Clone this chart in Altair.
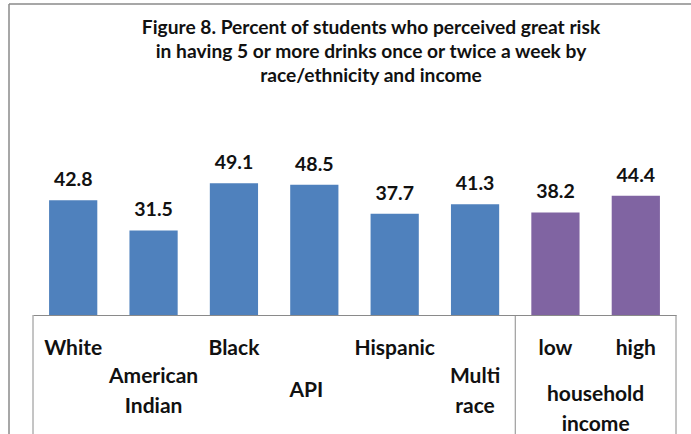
import altair as alt
import pandas as pd

categories = ["White", "American Indian", "Black", "API", "Hispanic", "Multi race", "low", "high"]
values = [42.8, 31.5, 49.1, 48.5, 37.7, 41.3, 38.2, 44.4]
groups = ["race", "race", "race", "race", "race", "race", "income", "income"]
label_text = ["White", "American\nIndian", "Black", "API", "Hispanic", "Multi\nrace", "low", "high"]
top_row = ["White", "Black", "Hispanic", "low", "high"]
two_line = ["American Indian", "Multi race"]
group_label = ["household\nincome"]
title_text = ["Figure 8. Percent of students who perceived great risk\n"
              "in having 5 or more drinks once or twice a week by\n"
              "race/ethnicity and income"]

FONT = "Lato"
W, H = 643, 161
STEP = W / len(categories)
GRAY = "#8a8a8a"
INK = "#111111"

df = pd.DataFrame({"cat": categories, "value": values, "group": groups, "label": label_text})
gdf = pd.DataFrame({"cat": ["low"], "label": group_label})
tdf = pd.DataFrame({"t": title_text})
one = pd.DataFrame({"k": [0]})

x = alt.X(
    "cat:N",
    sort=categories,
    scale=alt.Scale(domain=categories, paddingInner=0.4, paddingOuter=0.2),
    axis=alt.Axis(title=None, labels=False, ticks=False, grid=False,
                  domainColor=GRAY, domainWidth=1),
)
y = alt.Y("value:Q", scale=alt.Scale(domain=[0, 60]), axis=None)

bars = alt.Chart(df).mark_bar().encode(
    x=x,
    y=y,
    color=alt.Color("group:N",
                    scale=alt.Scale(domain=["race", "income"], range=["#4F81BD", "#8064A2"]),
                    legend=None),
)

vals = alt.Chart(df).mark_text(
    font=FONT, fontSize=19.5, fontWeight="bold", baseline="alphabetic", dy=-14, color=INK
).encode(x=x, y=y, text=alt.Text("value:Q", format=".1f"))

row1 = alt.Chart(df).transform_filter(
    alt.FieldOneOfPredicate(field="cat", oneOf=top_row)
).mark_text(
    font=FONT, fontSize=21, fontWeight="bold", baseline="middle", color=INK
).encode(x=x, y=alt.value(195), text="label:N")

row2 = alt.Chart(df).transform_filter(
    alt.FieldOneOfPredicate(field="cat", oneOf=two_line)
).mark_text(
    font=FONT, fontSize=21, fontWeight="bold", baseline="middle", color=INK,
    lineBreak="\n", lineHeight=30
).encode(x=x, y=alt.value(223), text="label:N")

row_api = alt.Chart(df).transform_filter(
    alt.FieldEqualPredicate(field="cat", equal="API")
).mark_text(
    font=FONT, fontSize=21, fontWeight="bold", baseline="middle", color=INK, dx=-8
).encode(x=x, y=alt.value(237), text="label:N")

grp = alt.Chart(gdf).mark_text(
    font=FONT, fontSize=21, fontWeight="bold", baseline="middle", color=INK,
    lineBreak="\n", lineHeight=30, dx=STEP / 2
).encode(x=alt.X("cat:N", sort=categories), y=alt.value(241), text="label:N")

title = alt.Chart(tdf).mark_text(
    font=FONT, fontSize=19.2, fontWeight="bold", baseline="alphabetic", align="center",
    color=INK, lineBreak="\n", lineHeight=24
).encode(x=alt.value(338), y=alt.value(-120), text="t:N")

box_left = alt.Chart(one).mark_rule(color=GRAY, strokeWidth=1).encode(
    x=alt.value(0), y=alt.value(H), y2=alt.value(H + 150))
box_div = alt.Chart(one).mark_rule(color=GRAY, strokeWidth=1).encode(
    x=alt.value(6 * STEP), y=alt.value(H), y2=alt.value(H + 150))
box_right = alt.Chart(one).mark_rule(color=GRAY, strokeWidth=1).encode(
    x=alt.value(W), y=alt.value(H), y2=alt.value(H + 150))

outer_top = alt.Chart(one).mark_rule(color=GRAY, strokeWidth=1.5).encode(
    x=alt.value(-24), x2=alt.value(700), y=alt.value(-150))
outer_left = alt.Chart(one).mark_rule(color=GRAY, strokeWidth=1.5).encode(
    x=alt.value(-24), y=alt.value(-150), y2=alt.value(H + 150))

chart = alt.layer(
    outer_top, outer_left, box_left, box_div, box_right, bars, vals,
    row1, row2, row_api, grp, title
).properties(
    width=W,
    height=H,
    autosize=alt.AutoSizeParams(type="none"),
    padding={"left": 33, "top": 154, "right": 15, "bottom": 119},
).configure(background="white").configure_view(stroke=None)

chart.save("out.html", embed_options={"renderer": "svg", "actions": False})
